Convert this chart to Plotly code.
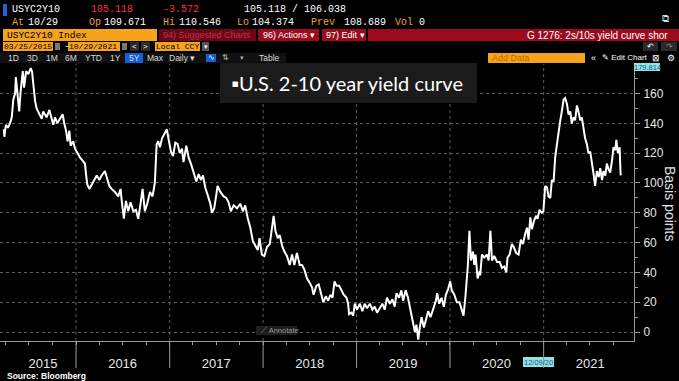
import plotly.graph_objects as go

# ---- data ----
dates = [
    "2015-03-25","2015-03-27","2015-04-02","2015-04-10","2015-04-18","2015-04-25","2015-05-01","2015-05-08",
    "2015-05-11","2015-05-17","2015-05-24","2015-05-30","2015-06-07","2015-06-12","2015-06-20","2015-06-29",
    "2015-07-08","2015-07-13","2015-07-18","2015-07-25","2015-07-31","2015-08-11","2015-08-20","2015-08-26",
    "2015-09-08","2015-09-19","2015-09-28","2015-10-04","2015-10-11","2015-10-20","2015-10-30","2015-11-10",
    "2015-11-16","2015-11-23","2015-11-29","2015-12-06","2015-12-11","2015-12-21","2015-12-28",
    "2016-01-06","2016-01-17","2016-01-27","2016-02-05","2016-02-09","2016-02-14","2016-02-22","2016-03-02",
    "2016-03-11","2016-03-22","2016-04-01","2016-04-10","2016-04-23","2016-04-30","2016-05-10","2016-05-19",
    "2016-06-01","2016-06-14","2016-06-23","2016-06-27","2016-07-06","2016-07-14","2016-07-23","2016-08-01",
    "2016-08-12","2016-08-22","2016-08-31","2016-09-09","2016-09-17","2016-09-26","2016-10-05","2016-10-16",
    "2016-10-26","2016-11-04","2016-11-11","2016-11-17","2016-11-24","2016-12-02","2016-12-11","2016-12-21",
    "2016-12-28",
    "2017-01-06","2017-01-14","2017-01-23","2017-02-01","2017-02-09","2017-02-18","2017-02-24","2017-03-07",
    "2017-03-16","2017-03-25","2017-04-04","2017-04-15","2017-04-24","2017-05-03","2017-05-11","2017-05-20",
    "2017-05-29","2017-06-09","2017-06-15","2017-06-24","2017-07-02","2017-07-07","2017-07-18","2017-07-31",
    "2017-08-10","2017-08-19","2017-08-28","2017-09-08","2017-09-21","2017-10-04","2017-10-14","2017-10-23",
    "2017-11-01","2017-11-12","2017-11-22","2017-12-01","2017-12-11","2017-12-18","2017-12-27",
    "2018-01-06","2018-01-16","2018-01-27","2018-02-05","2018-02-11","2018-02-18","2018-02-27","2018-03-07",
    "2018-03-16","2018-03-25","2018-04-04","2018-04-15","2018-04-24","2018-05-03","2018-05-13","2018-05-24",
    "2018-06-02","2018-06-11","2018-06-21","2018-07-02","2018-07-11","2018-07-17","2018-07-28","2018-08-06",
    "2018-08-12","2018-08-24","2018-09-03","2018-09-12","2018-09-21","2018-09-29","2018-10-07","2018-10-15",
    "2018-10-25","2018-11-03","2018-11-12","2018-11-23","2018-11-29","2018-12-03","2018-12-12","2018-12-19",
    "2018-12-25",
    "2019-01-03","2019-01-14","2019-01-24","2019-02-02","2019-02-11","2019-02-22","2019-03-04","2019-03-13",
    "2019-03-22","2019-04-02","2019-04-12","2019-04-21","2019-04-30","2019-05-11","2019-05-21","2019-05-30",
    "2019-06-06","2019-06-16","2019-06-25","2019-07-02","2019-07-12","2019-07-21","2019-07-31","2019-08-07",
    "2019-08-17","2019-08-23","2019-08-30","2019-09-05","2019-09-12","2019-09-21","2019-09-29","2019-10-08",
    "2019-10-17","2019-10-27","2019-11-07","2019-11-12","2019-11-20","2019-11-29","2019-12-08","2019-12-16",
    "2019-12-25",
    "2020-01-02","2020-01-08","2020-01-18","2020-01-28","2020-02-07","2020-02-16","2020-02-23","2020-03-01",
    "2020-03-07","2020-03-11","2020-03-17","2020-03-23","2020-03-31","2020-04-05","2020-04-10","2020-04-18",
    "2020-04-26","2020-04-28","2020-05-05","2020-05-14","2020-05-24","2020-05-31","2020-06-07","2020-06-13",
    "2020-06-22","2020-07-03","2020-07-13","2020-07-22","2020-07-31","2020-08-08","2020-08-13","2020-08-21",
    "2020-08-30","2020-09-06","2020-09-16","2020-09-25","2020-10-04","2020-10-12","2020-10-21","2020-10-28",
    "2020-11-03","2020-11-10","2020-11-16","2020-11-25","2020-12-03","2020-12-08","2020-12-16","2020-12-25",
    "2020-12-31",
    "2021-01-07","2021-01-14","2021-01-20","2021-01-27","2021-02-02","2021-02-09","2021-02-15","2021-02-22",
    "2021-02-28","2021-03-07","2021-03-13","2021-03-20","2021-03-26","2021-04-02","2021-04-08","2021-04-15",
    "2021-04-21","2021-04-28","2021-05-04","2021-05-11","2021-05-17","2021-05-24","2021-05-30","2021-06-06",
    "2021-06-12","2021-06-19","2021-06-25","2021-07-02","2021-07-08","2021-07-15","2021-07-21","2021-07-28",
    "2021-08-04","2021-08-10","2021-08-17","2021-08-23","2021-08-30","2021-09-05","2021-09-12","2021-09-18",
    "2021-09-25","2021-10-01","2021-10-08","2021-10-12","2021-10-18","2021-10-25","2021-10-27","2021-10-29",
]

spread_bp = [
    136,131,139,137,140,144,156,160,
    171,160,148,162,175,164,175,173,
    177,175,165,155,150,146,143,148,
    144,149,142,139,144,140,143,146,
    140,135,128,135,125,128,123,
    120,117,115,113,106,99,96,99,
    102,105,102,105,108,104,98,96,
    94,91,96,89,76,88,81,87,
    81,82,76,86,96,81,86,94,
    91,100,126,128,124,130,133,136,
    129,
    121,118,127,126,120,123,114,125,
    117,113,108,101,106,102,105,97,
    92,86,80,83,92,98,94,91,
    90,87,81,85,83,86,81,85,
    77,70,61,58,55,63,52,
    51,57,59,70,78,68,63,65,
    58,54,51,45,52,45,53,45,
    45,42,36,33,30,25,31,32,
    28,20,24,21,25,23,34,31,
    31,28,25,23,19,12,13,11,
    19,
    15,19,14,19,16,19,15,17,
    13,16,19,15,23,19,22,17,
    26,23,28,21,28,23,14,7,
    0,5,-5,3,10,3,8,14,
    10,16,21,26,19,23,17,25,
    29,
    34,28,25,20,20,14,11,23,
    34,45,68,48,54,45,52,36,
    41,38,52,50,52,48,68,48,
    51,47,47,43,44,40,50,52,
    59,57,53,52,62,59,66,70,
    62,77,69,75,78,76,82,80,
    81,
    98,97,91,90,102,101,117,126,
    135,142,148,156,157,153,146,148,
    140,144,142,152,148,142,144,135,
    130,126,120,121,115,106,98,108,
    104,110,102,108,105,113,109,107,
    115,124,122,129,120,124,113,105.118,
]

year_boundaries = ["2016-01-01", "2017-01-01", "2018-01-01", "2019-01-01", "2020-01-01", "2021-01-01"]
year_label_dates = ["2015-08-25", "2016-07-01", "2017-07-02", "2018-07-02", "2019-07-02", "2020-07-01", "2021-07-02"]
year_labels = ["2015", "2016", "2017", "2018", "2019", "2020", "2021"]

# ---- layout helpers (pixel -> paper) ----
PW, PT, PB = 634.0, 64.0, 341.0
PH = PB - PT


def px(x):
    return x / PW


def py(y):
    return (PB - y) / PH


shapes = []
annotations = []
MONO = "Liberation Mono"
SANS = "Liberation Sans"
ORANGE = "#f7a21b"
RED = "#9c0a1e"
TXT_OR = "#f0a030"
GRID = "#5e5e5e"
AXIS = "#9a9a9a"


def rect(x0, y0, x1, y1, fill, line=None):
    shapes.append(dict(type="rect", xref="paper", yref="paper",
                       x0=px(x0), x1=px(x1), y0=py(y1), y1=py(y0),
                       fillcolor=fill, line=dict(width=0) if line is None else line,
                       layer="above"))


def text(x, y, s, color="white", size=9, family=MONO, anchor="left"):
    annotations.append(dict(x=px(x), y=py(y), xref="paper", yref="paper", text=s,
                            showarrow=False, xanchor=anchor, yanchor="middle",
                            font=dict(family=family, size=size, color=color)))


# Row 1
rect(3, 4, 7, 16, "#1e64d2")
text(10, 10, "USYC2Y10", "white", 10)
text(89, 10, "105.118", "#ff2d4b", 10)
text(161, 10, "-3.572", "#ff2d4b", 10)
text(242, 10, "105.118 / 106.038", "white", 10)
text(666, 19, "⧉", "#dddddd", 10, SANS, "center")
# Row 2
for lab, lx, val, vx in [("At", 10, "10/29", 26), ("Op", 87, "109.671", 102), ("Hi", 161, "110.546", 177),
                         ("Lo", 235, "104.374", 250), ("Prev", 309, "108.689", 342), ("Vol", 393, "0", 417)]:
    text(lx, 22, lab, TXT_OR, 10)
    text(vx, 22, val, "white", 10)
# Row 3
rect(3, 29, 157, 41, ORANGE)
text(5, 35, "USYC2Y10 Index", "black", 9.5)
rect(159, 29, 256, 41, "#6e0614")
text(161, 35, "94) Suggested Charts", "#b3384c", 9, SANS)
rect(258, 29, 319, 41, RED)
text(261, 35, "96) Actions ▾", "white", 9, SANS)
rect(322, 29, 366, 41, RED)
text(324, 35, "97) Edit ▾", "white", 9, SANS)
rect(368, 29, 679, 41, RED)
text(670, 35, "G 1276: 2s/10s yield curve shor", "white", 10, SANS, "right")
# Row 4
rect(3, 42, 53, 51, ORANGE)
text(2, 46.5, "03/25/2015", "black", 8)
rect(55, 43, 60, 50, "#777777")
text(62, 46.5, "-", "white", 9)
rect(68, 42, 120, 51, ORANGE)
text(67, 46.5, "10/29/2021", "black", 8)
rect(122, 43, 127, 50, "#777777")
rect(130, 42, 139, 51, "#2a2a2a")
text(134.5, 46.5, "<", "white", 8, SANS, "center")
rect(141, 42, 150, 51, "#2a2a2a")
text(145.5, 46.5, ">", "white", 8, SANS, "center")
rect(155, 42, 200, 51, ORANGE)
text(154, 46.5, "Local CCY", "black", 8)
rect(202, 42, 209, 51, "#555555")
text(205.5, 46.5, "▾", "white", 7, SANS, "center")
rect(643, 42, 658, 51, "#2a2a2a")
text(650.5, 46.5, "↶", "white", 8, SANS, "center")
rect(661, 42, 677, 51, "#2a2a2a")
text(669, 46.5, "↷", "#888888", 8, SANS, "center")
# Row 5
rect(0, 53, 286, 63, "#111111")
rect(125, 53, 143, 63, "#1560d8")
for lab, cx in [("1D", 13), ("3D", 32), ("1M", 52), ("6M", 71), ("YTD", 93), ("1Y", 115),
                ("5Y", 134), ("Max", 155), ("Daily ▾", 182)]:
    text(cx, 58, lab, "#d8d8d8", 8.5, SANS, "center")
rect(206, 54, 216, 62, "#1560d8")
text(211, 58, "∿", "white", 8, SANS, "center")
text(225, 58, "⇅", "#aaaaaa", 8, SANS, "center")
text(242, 58, "▾", "#aaaaaa", 7, SANS, "center")
text(269, 58, "Table", "#d8d8d8", 8.5, SANS, "center")
rect(488, 53, 585, 63, ORANGE)
text(490, 58, "Add Data", "#b86c00", 9, SANS)
text(593, 58, "«", "white", 9, SANS, "center")
text(600, 58, "✎ Edit Chart", "white", 8, SANS)
text(656, 58, "⊠", "white", 9, SANS, "center")
text(671, 58, "⚙", "white", 9, SANS, "center")

# Title box
rect(220, 63, 477, 103, "#1b1b1b")
text(229, 83, "▪U.S. 2-10 year yield curve", "white", 20, "Lato")

# Annotate button
rect(256, 326, 297, 335, "#1e1e1e")
text(259, 330.5, "⟋ Annotate", "#9a9a9a", 7.5, SANS)

# crosshair labels
rect(634, 63, 660, 71, "#8fe3e3")
text(647, 67, "179.814", "#1a5a8a", 7.5, SANS, "center")
rect(523, 357, 554, 367, "#8fe3e3")
text(538.5, 362, "12/09/20", "#1a5a8a", 7.5, SANS, "center")

# axis title
annotations.append(dict(x=px(670), y=py(203), xref="paper", yref="paper", text="Basis points",
                        textangle=90, showarrow=False, xanchor="center", yanchor="middle",
                        font=dict(family=SANS, size=14, color="#e0e0e0")))
# source
text(5, 376, "<b>Source: Bloomberg</b>", "white", 8.5, SANS)

# year boundaries: dotted grid inside plot, solid separator below axis
for yb in year_boundaries:
    shapes.append(dict(type="line", xref="x", yref="paper", x0=yb, x1=yb, y0=0, y1=1,
                       line=dict(color=GRID, width=1, dash="dot"), layer="below"))
    shapes.append(dict(type="line", xref="x", yref="paper", x0=yb, x1=yb,
                       y0=py(368), y1=0, line=dict(color=AXIS, width=1), layer="above"))

fig = go.Figure(go.Scatter(x=dates, y=spread_bp, mode="lines",
                           line=dict(color="white", width=2), hoverinfo="skip"))

fig.update_layout(
    width=679, height=381, autosize=False,
    margin=dict(l=0, r=45, t=64, b=40),
    paper_bgcolor="black", plot_bgcolor="black",
    showlegend=False,
    xaxis=dict(type="date", range=["2015-03-10", "2021-12-20"],
               tickmode="array", tickvals=year_label_dates, ticktext=year_labels,
               showgrid=False, showline=True, linecolor=AXIS, linewidth=1,
               ticks="", ticklabelstandoff=10,
               tickfont=dict(family=SANS, size=13, color="#e6e6e6"),
               minor=dict(dtick="M3", tick0="2015-01-01", ticks="outside", ticklen=3,
                          tickcolor=AXIS, showgrid=False),
               zeroline=False, fixedrange=True),
    yaxis=dict(side="right", range=[-6, 179.8], tick0=0, dtick=20,
               showgrid=True, gridcolor=GRID, griddash="dot", gridwidth=1,
               showline=True, linecolor=AXIS, linewidth=1,
               ticks="outside", ticklen=5, tickcolor=AXIS, ticklabelstandoff=1,
               tickfont=dict(family=SANS, size=12, color="#e6e6e6"),
               minor=dict(dtick=10, ticks="outside", ticklen=3, tickcolor=AXIS, showgrid=False),
               zeroline=False, fixedrange=True),
    shapes=shapes,
    annotations=annotations,
)

fig.write_html("out.html", config={"displayModeBar": False},
               post_script="document.body.style.margin='0';document.body.style.overflow='hidden';")
